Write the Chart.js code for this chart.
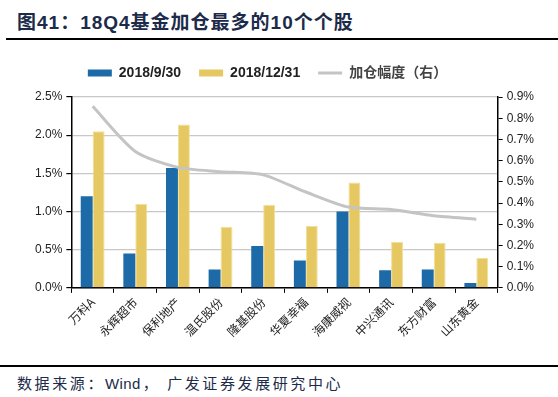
<!DOCTYPE html>
<html><head><meta charset="utf-8">
<script src="https://cdn.jsdelivr.net/npm/chart.js@4/dist/chart.umd.min.js"></script>
<style>
html,body{margin:0;padding:0;background:#fff;width:558px;height:397px;overflow:hidden;position:relative;font-family:"Liberation Sans","Noto Sans CJK SC",sans-serif;}
#title{position:absolute;left:17px;top:7px;font-size:19px;font-weight:bold;color:#1c2b4a;font-family:"Liberation Sans","Noto Sans CJK SC",sans-serif;letter-spacing:1px;}
#rule1{position:absolute;left:6px;right:0;top:38px;height:2px;background:#000;}
#rule2{position:absolute;left:0;right:0;top:365px;height:2px;background:#000;}
#foot{position:absolute;left:17px;top:372px;font-size:15px;color:#1c2b4a;letter-spacing:2.6px;font-family:"Liberation Sans","Noto Sans CJK SC",sans-serif;white-space:nowrap;}
#foot span{letter-spacing:0.4px;margin-right:2px;}
#wrap{position:absolute;left:0;top:48px;width:558px;height:312px;}
</style></head>
<body>
<div id="title">图41：18Q4基金加仓最多的10个个股</div>
<div id="rule1"></div>
<div id="wrap"><canvas id="c"></canvas></div>
<div id="rule2"></div>
<div id="foot">数据来源：<span>Wind</span>，&nbsp;广发证券发展研究中心</div>
<script>
const categories = ['万科A','永辉超市','保利地产','温氏股份','隆基股份','华夏幸福','海康威视','中兴通讯','东方财富','山东黄金'];
const seriesNames = ['2018/9/30','2018/12/31','加仓幅度（右）'];
const holdSep = [1.20, 0.45, 1.57, 0.24, 0.55, 0.36, 1.00, 0.23, 0.24, 0.065];
const holdDec = [2.05, 1.10, 2.14, 0.80, 1.09, 0.81, 1.38, 0.60, 0.59, 0.39];
const increase = [0.856, 0.643, 0.568, 0.548, 0.533, 0.452, 0.381, 0.369, 0.340, 0.324];
const leftTicks = {min:0, max:2.5, step:0.5};
const rightTicks = {min:0, max:0.9, step:0.1};

const blue = '#1c6aa7', yellow = '#e5c862', grey = '#c4c4c4';
const legendTweak = {
  id: 'legendTweak',
  beforeInit(chart) {
    const fit = chart.legend.fit;
    chart.legend.fit = function() { fit.call(this); this.height += 7; };
  },
  afterLayout(chart) {
    chart.legend.left -= 17; chart.legend.right -= 17;
  }
};
new Chart(document.getElementById('c'), {
  data: {
    labels: categories,
    datasets: [
      {type:'line', label: seriesNames[2], data: increase, yAxisID:'y1', borderColor: grey, backgroundColor: grey, borderWidth: 3, pointRadius: 0, tension: 0.25, order: 0},
      {type:'bar', label: seriesNames[0], data: holdSep, yAxisID:'y', backgroundColor: blue, borderWidth: 0, categoryPercentage: 0.56, barPercentage: 1, order: 1},
      {type:'bar', label: seriesNames[1], data: holdDec, yAxisID:'y', backgroundColor: yellow, borderColor: '#f2df99', borderWidth: {top:1,left:1,right:1,bottom:0}, categoryPercentage: 0.56, barPercentage: 1, order: 1}
    ]
  },
  plugins: [legendTweak],
  options: {
    responsive: true, maintainAspectRatio: false, animation: false,
    layout: {padding: {left: 31, right: 20, top: 0, bottom: 19}},
    plugins: {
      tooltip: {enabled: false},
      legend: {
        position: 'top',
        labels: {
          font: {family: '"Liberation Sans","Noto Sans CJK SC",sans-serif', size: 14, weight: 'bold'},
          color: '#222',
          usePointStyle: true, pointStyleWidth: 24, boxHeight: 7, padding: 18,
          generateLabels: function(chart) {
            const ds = chart.data.datasets;
            return [
              {text: ds[1].label, fillStyle: blue, strokeStyle: blue, lineWidth: 0, pointStyle: 'rect', datasetIndex: 1, fontColor:'#222'},
              {text: ds[2].label, fillStyle: yellow, strokeStyle: yellow, lineWidth: 0, pointStyle: 'rect', datasetIndex: 2, fontColor:'#222'},
              {text: ds[0].label, fillStyle: grey, strokeStyle: grey, lineWidth: 3, pointStyle: 'line', datasetIndex: 0, fontColor:'#444'}
            ];
          }
        }
      }
    },
    scales: {
      x: {
        offset: true,
        grid: {display: true, offset: true, drawOnChartArea: false, drawTicks: true, tickLength: 5, color: '#000', tickColor:'#000'},
        border: {display: true, color: '#000', width: 1.5},
        ticks: {minRotation: 45, maxRotation: 45, color: '#222', font: {family: '"Noto Sans CJK SC",sans-serif', size: 12}, padding: 2}
      },
      y: {
        position: 'left', min: leftTicks.min, max: leftTicks.max,
        grid: {color: '#c8c8c8', lineWidth: 1.2, drawTicks: true, tickLength: 5, tickColor:'#000'},
        border: {display: true, color: '#000', width: 1.5},
        ticks: {stepSize: leftTicks.step, color: '#222', font: {family: '"Liberation Sans",sans-serif', size: 12}, padding: 4,
          callback: v => v.toFixed(1) + '%'}
      },
      y1: {
        position: 'right', min: rightTicks.min, max: rightTicks.max,
        grid: {drawOnChartArea: false, drawTicks: true, tickLength: 5, color:'#000', tickColor:'#000'},
        border: {display: true, color: '#000', width: 1.5},
        ticks: {stepSize: rightTicks.step, color: '#222', font: {family: '"Liberation Sans",sans-serif', size: 12}, padding: 4,
          callback: v => v.toFixed(1) + '%'}
      }
    }
  }
});
</script>
</body></html>
